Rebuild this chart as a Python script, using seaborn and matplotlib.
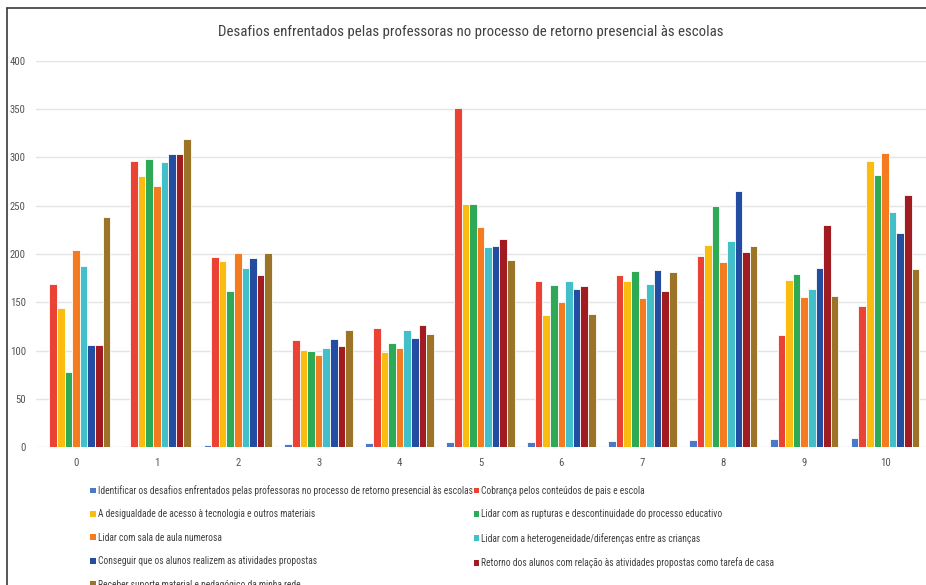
import matplotlib
matplotlib.use("Agg")
import matplotlib.pyplot as plt
from matplotlib import font_manager
from matplotlib.font_manager import FontProperties
from matplotlib.textpath import TextPath
from matplotlib.patches import Patch
from matplotlib.lines import Line2D
import seaborn as sns
import pandas as pd

# Values per grouping (0 to 10) for each challenge series
groups = ["0", "1", "2", "3", "4", "5", "6", "7", "8", "9", "10"]

series_names = [
    "Identificar os desafios enfrentados pelas professoras no processo de retorno presencial às escolas",
    "Cobrança pelos conteúdos de pais e escola",
    "A desigualdade de acesso à tecnologia e outros materiais",
    "Lidar com as rupturas e descontinuidade do processo educativo",
    "Lidar com sala de aula numerosa",
    "Lidar com a heterogeneidade/diferenças entre as crianças",
    "Conseguir que os alunos realizem as atividades propostas",
    "Retorno dos alunos com relação às atividades propostas como tarefa de casa",
    "Receber suporte material e pedagógico da minha rede",
]

identificar = [0, 1, 2, 3, 4, 5, 6, 7, 8, 9, 10]
cobranca = [169, 296, 197, 111, 123, 351, 172, 178, 198, 116, 146]
desigualdade = [144, 281, 193, 101, 99, 252, 137, 172, 209, 173, 296]
rupturas = [78, 298, 162, 100, 108, 252, 168, 182, 250, 179, 282]
sala_numerosa = [204, 270, 201, 96, 103, 228, 150, 154, 192, 155, 305]
heterogeneidade = [188, 295, 185, 103, 121, 207, 172, 169, 213, 164, 243]
conseguir = [106, 303, 196, 112, 113, 208, 164, 183, 265, 185, 222]
retorno = [106, 303, 178, 105, 127, 216, 167, 162, 202, 230, 261]
suporte = [238, 319, 201, 121, 117, 194, 138, 181, 208, 157, 184]

all_values = [identificar, cobranca, desigualdade, rupturas, sala_numerosa,
              heterogeneidade, conseguir, retorno, suporte]

palette = ["#4B78C9", "#EA4335", "#FBBC12", "#2EAA57", "#F47B20",
           "#42BFC8", "#234DA0", "#A01C20", "#9B7428"]

title_text = "Desafios enfrentados pelas professoras no processo de retorno presencial às escolas"

rows = []
for name, vals in zip(series_names, all_values):
    for g, v in zip(groups, vals):
        rows.append({"grupo": g, "serie": name, "valor": v})
df = pd.DataFrame(rows)

sns.set_theme(style="white")


def _is_regular(f):
    w = f.weight
    if isinstance(w, str):
        w = {"normal": 400, "regular": 400, "book": 400}.get(w.lower(), 700)
    return f.style == "normal" and 350 <= w <= 450


def pick_narrow_font():
    """Prefer a narrow sans-serif face; fall back to Liberation Sans."""
    fonts = [f for f in font_manager.fontManager.ttflist if _is_regular(f)]
    prefs = [
        lambda f: f.name == "Liberation Sans Narrow",
        lambda f: f.name == "Roboto Condensed",
        lambda f: f.name in ("Noto Sans", "Noto Sans Condensed", "Open Sans",
                             "Open Sans Condensed", "DejaVu Sans", "DejaVu Sans Condensed")
        and str(f.stretch) in ("condensed", "semi-condensed", "75", "87.5"),
        lambda f: "Condensed" in f.name or "Narrow" in f.name,
        lambda f: f.name == "Liberation Sans",
        lambda f: f.name == "DejaVu Sans",
    ]
    for test in prefs:
        for f in fonts:
            try:
                if test(f):
                    return f.fname
            except Exception:
                pass
    return None


font_file = pick_narrow_font()


def fp(size):
    if font_file:
        return FontProperties(fname=font_file, size=size)
    return FontProperties(family="DejaVu Sans", size=size)


def width_px(text, size):
    return TextPath((0, 0), text, prop=fp(size)).get_extents().width * 100 / 72


# Font sizes fitted to the drawn text widths
title_size = 11 * 502 / width_px(title_text, 11)
legend_size = 8 * 374 / width_px(series_names[0], 8)
tick_size = 8.2 * 15 / width_px("400", 8.2)
title_size = min(title_size, 11.5)
legend_size = min(legend_size, 8.2)
tick_size = min(tick_size, 8.4)

W, H = 926, 585
fig = plt.figure(figsize=(W / 100, H / 100), dpi=100)
ax = fig.add_axes([35.5 / W, (H - 447.3) / H, 890 / W, 386.6 / H])

sns.barplot(data=df, x="grupo", y="valor", hue="serie", order=groups,
            hue_order=series_names, palette=palette, width=0.845,
            edgecolor="white", linewidth=0.6, saturation=1, ax=ax,
            legend=False)

ax.set_xlim(-0.5, 10.5)
ax.set_ylim(0, 400)
ax.set_yticks(range(0, 401, 50))
ax.yaxis.grid(True, color="#E4E4E4", linewidth=1.0)
ax.set_axisbelow(True)
for s in ax.spines.values():
    s.set_visible(False)
ax.set_xlabel("")
ax.set_ylabel("")
ax.tick_params(axis="both", length=0, colors="#555555")
ax.tick_params(axis="x", pad=8)
ax.tick_params(axis="y", pad=7)
for lab in ax.get_xticklabels() + ax.get_yticklabels():
    lab.set_fontproperties(fp(tick_size))

fig.text(471 / W, 1 - 32 / H, title_text, ha="center", va="center",
         fontproperties=fp(title_size), color="#404040")

# Legend laid out row by row in two columns
handles = [Patch(facecolor=c, edgecolor="none") for c in palette]
order = [0, 2, 4, 6, 8, 1, 3, 5, 7]
fs_px = legend_size * 100 / 72
fig.legend([handles[i] for i in order], [series_names[i] for i in order],
           ncol=2, loc="upper left", bbox_to_anchor=(90 / W, 1 - 485 / H),
           frameon=False, prop=fp(legend_size),
           handlelength=5.5 / fs_px, handleheight=5.5 / fs_px,
           handletextpad=2.0 / fs_px, columnspacing=1.0 / fs_px,
           labelspacing=(24.6 - 1.17 * fs_px) / fs_px,
           borderpad=0, borderaxespad=0, labelcolor="#404040")

# Outer frame
fig.add_artist(Line2D([7 / W, 7 / W], [0, 1 - 8 / H], transform=fig.transFigure,
                      color="#3A3A3A", linewidth=1.2))
fig.add_artist(Line2D([7 / W, 1], [1 - 8 / H, 1 - 8 / H], transform=fig.transFigure,
                      color="#3A3A3A", linewidth=1.2))

fig.savefig("out.png", dpi=100)
